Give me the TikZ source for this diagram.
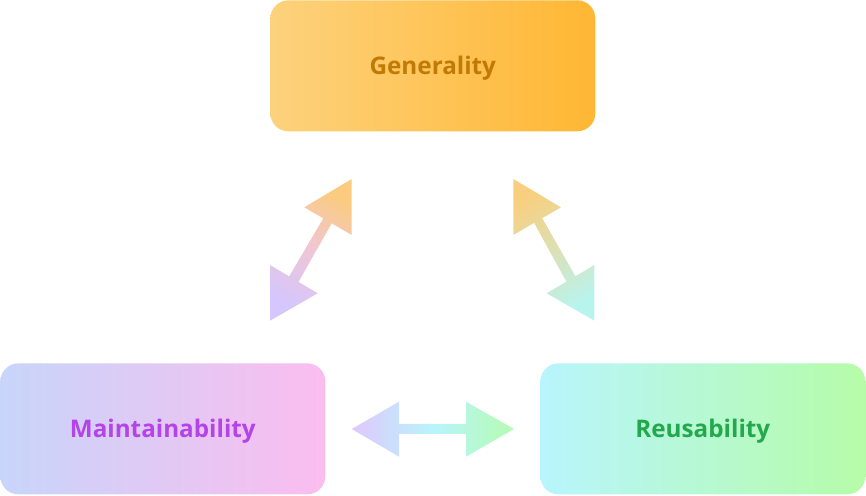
\documentclass[tikz,border=0pt]{standalone}
\usepackage{fontspec}
\setmainfont{Open Sans}
\usepackage{xcolor}
\usepackage{tikz}
\usetikzlibrary{positioning}
\usetikzlibrary{calc}
\definecolor{genL}{HTML}{FDD27D}
\definecolor{genR}{HTML}{FFB733}
\definecolor{genT}{HTML}{C27A06}
\definecolor{mntL}{HTML}{C8D5FA}
\definecolor{mntR}{HTML}{FBBDEF}
\definecolor{mntT}{HTML}{B443E8}
\definecolor{reuL}{HTML}{B8F5FD}
\definecolor{reuR}{HTML}{B6FCA8}
\definecolor{reuT}{HTML}{23A94B}
% arrow colours
\definecolor{arOr}{HTML}{FBCB80}
\definecolor{arPk}{HTML}{EFC6D6}
\definecolor{arVi}{HTML}{D5C6FD}
\definecolor{arYe}{HTML}{F8CF7E}
\definecolor{arOl}{HTML}{DCE0B6}
\definecolor{arCy}{HTML}{B8F4EE}
\definecolor{arLi}{HTML}{DFC8FC}
\definecolor{arSk}{HTML}{B9F4FC}
\definecolor{arGr}{HTML}{B5FCB2}

\begin{document}
\begin{tikzpicture}[>=stealth, x=0.02cm, y=-0.02cm,
	box/.style={minimum width=6.5cm, minimum height=2.62cm, anchor=north west, rounded corners=0.36cm, inner sep=0pt, align=center, text height=9.8pt, text depth=0pt, font=\fontsize{13.8}{16}\selectfont\bfseries}]
			\useasboundingbox (0,0) rectangle (866,496);
			%coordinates
			\coordinate (LLG)    at (270,0);
			\coordinate (LLM)    at (0,363);
			\coordinate (LLR)    at (540,363);
			
			\coordinate (MGup)   at (304.3,207.3);
			\coordinate (MGdown) at (317.7,293.3);
			\coordinate (RGup)   at (561,207.3);
			\coordinate (RGdown) at (546.7,293.3);
			\coordinate (MRleft) at (351.7,429);
			\coordinate (MRright) at (514,429);
			
			%nodes
			\node[box, left color=genL, right color=genR, text=genT] (G) at (LLG) {Generality};
			\node[box, left color=mntL, right color=mntR, text=mntT] (M) at (LLM) {Maintainability};
			\node[box, left color=reuL, right color=reuR, text=reuT] (R) at (LLR) {Reusability};
			
			%arrows
			\shade[top color=arOr, bottom color=arVi, middle color=arPk, shading angle=-30]
				(MGup) -- ++(47.4,-28.3) -- ++(0,56) -- cycle
				(323.3,218.3) -- (331.7,223.3) -- (298.3,282.3) -- (289,276.7) -- cycle
				(MGdown) -- ++(-47.7,27.4) -- ++(0,-55.7) -- cycle;
			\shade[top color=arYe, bottom color=arCy, middle color=arOl, shading angle=30]
				(RGup) -- ++(-47.7,-28.3) -- ++(0,56) -- cycle
				(542.3,218.3) -- (534.3,223.3) -- (566.7,282.3) -- (575.7,276.7) -- cycle
				(RGdown) -- ++(47.7,27.4) -- ++(0,-55.7) -- cycle;
			\shade[left color=arLi, right color=arGr, middle color=arSk]
				(MRleft) -- ++(47.3,-27.3) -- ++(0,55) -- cycle
				(395,424) -- (470,424) -- (470,434) -- (395,434) -- cycle
				(MRright) -- ++(-48,27.7) -- ++(0,-55) -- cycle;
			\end{tikzpicture}
\end{document}
